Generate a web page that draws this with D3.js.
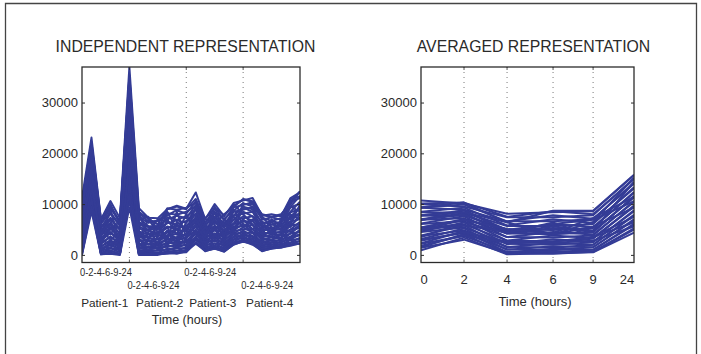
<!DOCTYPE html>
<html>
<head>
<meta charset="utf-8">
<script src="https://cdn.jsdelivr.net/npm/d3@7"></script>
<style>
  body { margin: 0; background: #fff; }
  svg { display: block; }
  text { font-family: "Liberation Sans", Arial, Helvetica, sans-serif; fill: #2a2a2a; }
</style>
</head>
<body>
<svg id="chart" width="701" height="354"></svg>
<script>
// ---- data -------------------------------------------------------------
const times = ["0", "2", "4", "6", "9", "24"];
const patients = ["Patient-1", "Patient-2", "Patient-3", "Patient-4"];
const yTicks = [0, 10000, 20000, 30000];

// Expression per sampling time (one array per time, one value per gene)
const patient1 = [
  [11200,10400,10500,9600,9000,9100,8200,7600,7800,6700,6200,6300,5200,5000,4700,3800,3600,2800,2700,1900,1400,1300,500,300,100,0, 4000,8000,2000,6000,10000,3000,5000,1000,9000,7000],
  [23100,22200,21800,21500,20600,20200,19600,18800,18600,17800,17200,16900,16100,15600,15100,14600,13700,13400,12700,12000,11600,10900,10400,9600,9300,8600, 15000,20000,11000,18000,17000,13000,16000,9500,21500,14000],
  [7000,6800,6200,6100,5400,5300,4700,4500,3900,3800,3200,3100,2800,2200,2300,1700,1600,1100,1000,800,400,400,300,200,100,100, 2000,5000,1000,3500,6000,4000,2500,1500,7000,3000],
  [10600,9500,9200,8400,8100,7300,7100,6300,6100,5400,5200,4500,4300,3600,3500,2900,2700,2100,2000,1400,1300,900,800,400,300,200, 6000,3000,2500,9000,4000,7000,5000,1500,10000,2000],
  [7200,6600,6500,5800,5700,5000,4900,4200,4200,3600,3500,2900,2800,2300,2200,1700,1600,1200,900,900,500,200,200,100,100,0, 2500,4500,1500,2000,7000,1000,5500,3000,6000,3500],
  [37000,35400,34700,33200,32600,31000,30400,28800,28300,26700,26100,24500,24000,22400,21800,20200,19600,18100,17500,15900,15300,13800,13100,11600,11000,9400, 20000,30000,14000,25000,33000,18000,23000,12000,35000,26000]
];
const patient2 = [
  [9200,8500,8300,7500,7200,6500,6300,5600,5300,4600,4400,3800,3600,3000,2800,2200,2100,1500,1400,900,800,300,300,100,100,0, 2000,6000,1000,8500,3000,4500,1500,500,7000,4000],
  [7300,7100,6500,6300,5700,5500,4900,4700,4200,4000,3500,3300,2800,2700,2200,2100,1600,1500,1100,1000,600,600,200,200,100,0, 1500,5500,3000,3000,7000,2000,4500,1000,7500,3500],
  [7200,6000,6700,6800,5600,5200,5300,4400,4200,3900,3700,3000,3200,2500,2300,2000,1800,1300,1400,800,900,400,300,100,100,0, 2500,2000,1000,6000,4500,3500,7000,1500,5000,5500],
  [9000,9200,7800,8200,7000,7400,6200,6500,5300,5600,4400,4800,3700,3900,3000,3200,2300,2500,1600,1900,1000,1300,600,800,200,400, 4500,7000,2000,3000,5500,8500,1500,3500,9000,2500],
  [9700,8900,8800,7900,7700,6900,6800,6000,5800,5100,5000,4200,4100,3400,3300,2700,2600,2000,1900,1400,1300,800,800,400,400,200, 3000,4000,6000,8500,2000,5000,6500,1500,9500,3500],
  [9100,9300,8100,8500,7200,7600,6300,6700,5400,5800,4600,5000,3900,4100,3200,3500,2500,2700,1900,2100,1300,1500,900,1000,500,700, 4000,8000,2500,3500,6500,1500,5000,3000,9000,5500]
];
const patient3 = [
  [12300,10200,10500,9600,9800,8800,9100,8000,8200,7200,7500,6400,6700,5500,5800,4800,5000,4100,4300,3400,3600,2900,3100,2400,2500,2200, 9500,4000,4500,6000,8000,3500,7000,3000,11000,5500],
  [7000,7200,6200,6400,5600,5900,4900,5200,4300,4600,3700,4000,3100,3400,2600,2900,2100,2400,1700,1900,1300,1500,1000,1100,700,800, 3000,6000,1500,4500,2000,5500,4000,2500,7000,3500],
  [10000,9200,9300,8400,8300,7400,7400,6600,6500,5700,5700,4900,4900,4200,4200,3500,3400,2900,2800,2300,2200,1800,1700,1400,1300,1200, 8500,3500,5500,5000,9500,3000,7000,4000,6000,7500],
  [7600,7800,6800,7100,6000,6300,5300,5600,4600,4900,4000,4300,3300,3600,2700,3000,2200,2400,1700,1900,1300,1400,900,1100,600,700, 2500,7000,2000,6000,4000,5000,3500,1500,8000,6000],
  [10200,9600,9400,8700,8500,7800,7700,7000,6900,6200,6100,5500,5400,4800,4700,4200,4100,3600,3500,3000,3000,2500,2500,2100,2100,2000, 9000,4500,3500,7500,6000,4000,10000,3000,9500,5000],
  [10700,10900,9800,10200,8900,9300,8100,8500,7200,7600,6500,6900,5700,6100,5000,5400,4400,4800,3800,4200,3300,3700,2900,3100,2600,2700, 6000,9500,4000,5500,10000,4500,8000,3500,11000,7000]
];
const patient4 = [
  [11200,10500,10400,9500,9400,8500,8500,7600,7600,6700,6700,5900,5900,5100,5100,4400,4300,3700,3700,3100,3100,2600,2600,2200,2200,2000, 4500,9000,3500,7000,10000,3000,6000,2500,10500,5000],
  [7700,7900,6900,7300,6100,6500,5400,5800,4700,5100,4000,4400,3400,3800,2800,3200,2300,2500,1800,2000,1400,1600,1000,1200,700,800, 3500,4000,2500,6000,7500,5000,3000,2000,8000,6500],
  [8000,7400,7400,6700,6700,6000,6000,5300,5300,4700,4600,4100,4000,3500,3500,3000,2900,2500,2400,2000,2000,1600,1600,1300,1300,1200, 5000,7000,3000,4000,5500,6500,3500,2500,7500,4500],
  [7600,7800,6900,7200,6200,6500,5600,5900,4900,5200,4300,4600,3800,4100,3300,3500,2800,3000,2400,2600,2000,2200,1700,1800,1400,1500, 3000,5500,4000,6500,2500,5000,7000,3000,8000,6000],
  [11200,10500,10400,9500,9400,8500,8400,7500,7500,6600,6600,5800,5800,5000,5000,4200,4200,3600,3500,3000,2900,2400,2400,2000,2000,1800, 8000,6000,3000,9500,11000,4500,7000,3500,10000,5500],
  [12300,12500,11200,11600,10100,10500,9000,9400,8000,8400,7000,7400,6100,6500,5300,5700,4500,4900,3800,4100,3200,3400,2700,2800,2200,2300, 7000,10000,5000,8500,11500,6000,9500,4000,12500,8000]
];
// Expression averaged over the four patients, per sampling time
const averaged = [
  [10700,10100,10000,9300,9300,8500,8400,7800,7700,7000,6900,6200,6100,5400,5300,4600,4500,3800,3700,3100,3000,2300,2200,1500,1400,900, 5000,6800,2800,6900,7800,3500,4900,1800,9400,5400],
  [10100,10300,9500,9900,8900,9300,8300,8700,7800,8200,7200,7600,6600,7000,6000,6400,5400,5800,4800,5200,4300,4700,3700,4100,3000,3400, 5800,8900,4500,7900,8400,6400,6900,3800,10300,6900],
  [8100,7500,7400,6600,6600,5800,5700,4900,5000,4200,4200,3500,3500,2800,2800,2100,2200,1500,1600,1000,1100,500,600,200,300,100, 4500,4400,2600,4600,6400,4300,5000,2400,6400,5100],
  [8400,8600,7400,7800,6600,7000,5700,6100,4900,5300,4100,4500,3400,3800,2700,3100,2000,2400,1400,1700,900,1200,500,700,200,300, 4000,5600,2600,6100,4000,6400,4300,2400,8700,4100],
  [8600,8000,7800,7100,7000,6300,6100,5500,5300,4700,4600,4000,3800,3300,3200,2600,2500,2000,2000,1500,1500,1000,1000,600,600,500, 5600,4800,3500,6900,6500,3600,7300,2800,8700,4400],
  [15700,14900,15100,14000,14200,13100,13300,12200,12400,11300,11500,10400,10600,9500,9700,8600,8800,7700,7900,6800,7000,5900,6100,5000,5200,4400, 9300,14400,6400,10600,15200,7500,11400,5600,15800,11600]
];

// ---- series -----------------------------------------------------------
const byPatient = [patient1, patient2, patient3, patient4];
const independentSeries = d3.transpose(byPatient.flat());   // gene -> 24 samples
const averagedSeries = d3.transpose(averaged);              // gene -> 6 times

// ---- layout ------------------------------------------------------------
const svg = d3.select("#chart");
const lineColor = "#343c96";
const axisColor = "#2b2b2b";
const plotTop = 67, plotBottom = 262.5;

const y = d3.scaleLinear().domain([-1500, 37000]).range([plotBottom, plotTop]);

// outer frame
svg.append("path")
  .attr("d", "M5.5,354V3.5H696.5V354")
  .attr("fill", "none").attr("stroke", "#444").attr("stroke-width", 1.3);

function panel(left, right, xScale, series, gridXs, title, titleX) {
  const g = svg.append("g");
  const clipId = "clip" + Math.round(left);
  g.append("clipPath").attr("id", clipId)
    .append("rect").attr("x", left).attr("y", plotTop).attr("width", right - left).attr("height", plotBottom - plotTop);

  // dotted vertical grid
  g.selectAll("line.grid").data(gridXs).join("line")
    .attr("class", "grid")
    .attr("x1", d => xScale(d)).attr("x2", d => xScale(d))
    .attr("y1", plotTop).attr("y2", plotBottom)
    .attr("stroke", "#555").attr("stroke-width", 0.8).attr("stroke-dasharray", "1,4");

  const line = d3.line().x((d, i) => xScale(i)).y(d => y(d));
  g.append("g").attr("clip-path", `url(#${clipId})`)
    .selectAll("path").data(series).join("path")
    .attr("d", line)
    .attr("fill", "none")
    .attr("stroke", lineColor)
    .attr("stroke-width", 2)
    .attr("stroke-linejoin", "round");

  // small inward ticks on top and bottom at grid positions
  g.selectAll("line.xt").data(gridXs.flatMap(d => [[d, plotTop, 3], [d, plotBottom, -3]])).join("line")
    .attr("class", "xt")
    .attr("x1", d => xScale(d[0])).attr("x2", d => xScale(d[0]))
    .attr("y1", d => d[1]).attr("y2", d => d[1] + d[2])
    .attr("stroke", axisColor).attr("stroke-width", 0.8);

  // y axis (left, labelled) and right-side ticks
  const ya = g.append("g").attr("transform", `translate(${left},0)`)
    .call(d3.axisLeft(y).tickValues(yTicks).tickSize(-3).tickPadding(4).tickFormat(d3.format("d")));
  ya.select(".domain").remove();
  ya.selectAll("line").attr("stroke", axisColor);
  ya.selectAll("text").attr("font-size", 13).attr("fill", "#2a2a2a")
    .attr("font-family", "'Liberation Sans', Arial, sans-serif");
  const yr = g.append("g").attr("transform", `translate(${right},0)`)
    .call(d3.axisRight(y).tickValues(yTicks).tickSize(-3).tickFormat(""));
  yr.select(".domain").remove();
  yr.selectAll("line").attr("stroke", axisColor);

  // box
  g.append("rect").attr("x", left).attr("y", plotTop)
    .attr("width", right - left).attr("height", plotBottom - plotTop)
    .attr("fill", "none").attr("stroke", axisColor).attr("stroke-width", 1.3);

  g.append("text").attr("x", titleX).attr("y", 52)
    .attr("text-anchor", "middle").attr("font-size", 15.8).text(title);
  return g;
}

// ---- independent representation -----------------------------------------
const L = { left: 82, right: 300 };
const nSamples = independentSeries[0].length;
const xInd = d3.scaleLinear().domain([0, nSamples - 1]).range([L.left, L.right]);
const boundaries = d3.range(1, patients.length).map(k => k * times.length - 1);
const leftPanel = panel(L.left, L.right, xInd, independentSeries, boundaries,
  "INDEPENDENT REPRESENTATION", 185.5);

// sample-time labels, staggered on two rows
const timeString = times.join("-");
const labelStarts = patients.map((p, k) => Math.max(0, k * times.length - 1));
leftPanel.selectAll("text.tl").data(labelStarts).join("text")
  .attr("class", "tl")
  .attr("x", d => xInd(d) - 2)
  .attr("y", (d, k) => k % 2 === 0 ? 276 : 289)
  .attr("font-size", 10.8)
  .attr("textLength", 52).attr("lengthAdjust", "spacingAndGlyphs")
  .text(timeString);

const patientLabelPos = [2.4, 8.2, 13.8, 19.8];
leftPanel.selectAll("text.pl").data(patients).join("text")
  .attr("class", "pl")
  .attr("x", (d, k) => xInd(patientLabelPos[k]))
  .attr("y", 307)
  .attr("text-anchor", "middle")
  .attr("font-size", 11.8)
  .text(d => d);
leftPanel.append("text").attr("x", 187).attr("y", 323.5)
  .attr("text-anchor", "middle").attr("font-size", 12.5).text("Time (hours)");

// ---- averaged representation ---------------------------------------------
const R = { left: 421, right: 634 };
const tickFrac = [0, 0.202, 0.404, 0.62, 0.808, 1];
const xAvg = d3.scaleLinear()
  .domain(d3.range(times.length))
  .range(tickFrac.map(f => R.left + f * (R.right - R.left)));
const rightPanel = panel(R.left, R.right, xAvg, averagedSeries, d3.range(1, times.length - 1),
  "AVERAGED REPRESENTATION", 533.5);

rightPanel.selectAll("text.xl").data(times).join("text")
  .attr("class", "xl")
  .attr("x", (d, i) => xAvg(i) + (i === 0 ? 3 : i === times.length - 1 ? -7 : 0))
  .attr("y", 283.5)
  .attr("text-anchor", "middle")
  .attr("font-size", 13)
  .text(d => d);
rightPanel.append("text").attr("x", 535).attr("y", 306)
  .attr("text-anchor", "middle").attr("font-size", 13).text("Time (hours)");
</script>
</body>
</html>
